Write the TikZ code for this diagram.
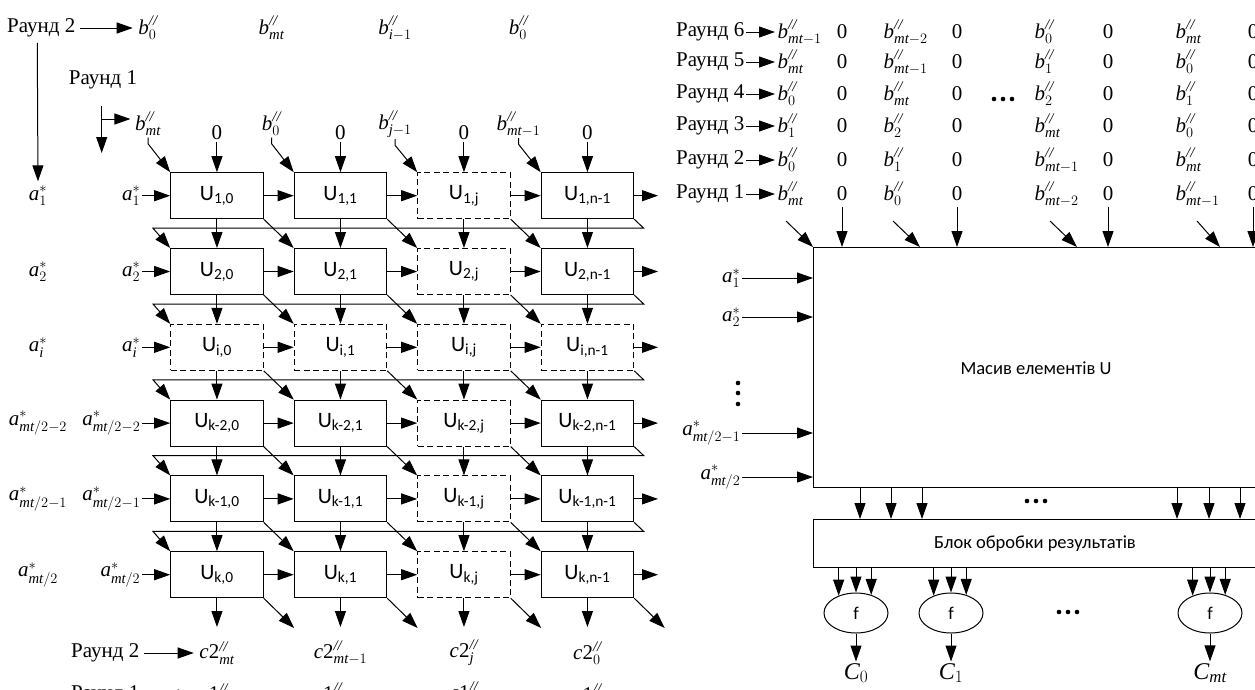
\documentclass[tikz,border=0pt]{standalone}
\usepackage{amsmath}
\usepackage{fontspec}
\setmainfont{Liberation Serif}
\setsansfont{Carlito}
\setmathrm{Liberation Serif}
\usetikzlibrary{arrows.meta,shapes.geometric}
\newcommand\itx[1]{\textit{#1}}
\newcommand\labB[1]{$\itx{b}^{\itx{//}}_{#1}$}
\newcommand\labA[1]{$\itx{a}^{*}_{#1}$}
\newcommand\labC[2]{$\itx{c}\mathrm{#1}^{\itx{//}}_{#2}$}
\begin{document}
\begin{tikzpicture}[x=1pt,y=-1pt,
  arr/.style={-{Triangle[length=16pt,width=11pt]},line width=1pt},
  ln/.style={line width=1pt},
  ubox/.style={draw,line width=1pt,minimum width=92.5pt,minimum height=46pt,inner sep=0pt,font=\sffamily\fontsize{22}{22}\selectfont},
  bs0/.style={},
  bs1/.style={dash pattern=on 6pt off 3.5pt},
  lbl/.style={font=\fontsize{21}{21}\selectfont,inner sep=1.5pt},
  sans/.style={font=\sffamily\fontsize{18.5}{18.5}\selectfont,inner sep=0pt},
  fnode/.style={draw,ellipse,line width=1pt,minimum width=64pt,minimum height=40pt,inner sep=0pt,font=\sffamily\fontsize{18}{18}\selectfont},
]
\useasboundingbox (0,0) rectangle (1255,689);

% ---------- left panel ----------
\node[lbl,anchor=east] (r2t) at (77,28) {Раунд 2};
\foreach \ci/\bl in {1/0,2/\itx{mt},3/{\itx{i}-1},4/0}{
  \pgfmathsetmacro\bx{148+123.5*(\ci-1)}
  \node[lbl] (tt\ci) at (\bx,28) {\labB{\bl}};
}
\draw[arr,shorten <=3pt,shorten >=4pt] (r2t.east) -- (tt1.west);
\node[lbl] (r1t) at (103,80) {Раунд 1};

\foreach \al [count=\ri] in {1,2,\itx{i},{\itx{mt}/2-2},{\itx{mt}/2-1},{\itx{mt}/2}}{
  \pgfmathsetmacro\cy{195.7+75.8*(\ri-1)}
  \node[lbl] (la\ri) at (38,\cy) {\labA{\al}};
  \node[lbl,anchor=east] (lb\ri) at (142,\cy) {\labA{\al}};
  \coordinate (out\ri) at (658,\cy);
  \pgfmathsetmacro\by{218.7+75.8*(\ri-1)+9.5}
  \coordinate (busL\ri) at (153,\by);
  \coordinate (busR\ri) at (643.7,\by);
}

\foreach \rl [count=\ri] in {1,2,i,k-2,k-1,k}{
  \foreach \cl [count=\ci] in {0,1,j,n-1}{
    \pgfmathtruncatemacro\isd{(\ri==3)||(\ci==3)}
    \pgfmathsetmacro\cx{216.95+123.5*(\ci-1)}
    \pgfmathsetmacro\cy{195.7+75.8*(\ri-1)}
    \node[ubox,bs\isd] (u-\ri-\ci) at (\cx,\cy) {U\textsubscript{\rl,\cl}};
  }
}

\draw[arr,shorten <=4pt,shorten >=3pt] ([xshift=-4pt]r2t.south) -- (la1.north);
\coordinate (sv1) at (101.7,106);
\coordinate (sv2) at (101.7,153);
\draw[arr] (sv1) -- (sv2);

\foreach \ci/\bl in {1/\itx{mt},2/0,3/{\itx{j}-1},4/{\itx{mt}-1}}{
  \pgfmathsetmacro\cx{216.95+123.5*(\ci-1)}
  \pgfmathsetmacro\bx{148+123.5*(\ci-1)}
  \node[lbl] (z\ci) at (\cx,133) {0};
  \node[lbl] (tb\ci) at (\bx,124) {\labB{\bl}};
  \draw[arr] (z\ci) -- (u-1-\ci.north);
  \draw[arr] (tb\ci.south) -- ++(0,6) -- (u-1-\ci.north west);
}
\coordinate (sh) at (101.7,119);
\draw[arr,shorten >=3pt] (sh) -- (sh -| tb1.west);

\foreach \ri in {1,...,6}{
  \draw[arr] (lb\ri.east) -- (u-\ri-1.west);
  \foreach \ci/\cn in {1/2,2/3,3/4}{
    \draw[arr] (u-\ri-\ci.east) -- (u-\ri-\cn.west);
  }
  \draw[arr] (u-\ri-4.east) -- (out\ri);
}
\foreach \ri/\rn in {1/2,2/3,3/4,4/5,5/6}{
  \foreach \ci in {1,...,4}{
    \draw[arr] (u-\ri-\ci.south) -- (u-\rn-\ci.north);
  }
  \foreach \ci/\cn in {1/2,2/3,3/4}{
    \draw[arr] (u-\ri-\ci.south east) -- (u-\rn-\cn.north west);
  }
  \draw[arr] (u-\ri-4.south east) -- (busR\ri) -- (busL\ri) -- (u-\rn-1.north west);
}
\foreach \ci in {1,...,4}{
  \pgfmathsetmacro\cx{216.95+123.5*(\ci-1)}
  \pgfmathsetmacro\dx{170.7+123.5*(\ci-1)+92.5+31}
  \coordinate (bo\ci) at (\cx,627);
  \coordinate (bd\ci) at (\dx,628);
  \draw[arr] (u-6-\ci.south) -- (bo\ci);
  \draw[arr] (u-6-\ci.south east) -- (bd\ci);
}

\node[lbl,anchor=east] (r2b) at (141,653) {Раунд 2};
\node[lbl,anchor=east] (r1b) at (141,695) {Раунд 1};
\foreach \ci/\sa in {1/\itx{mt},2/{\itx{mt}-1},3/\itx{j},4/0}{
  \pgfmathsetmacro\cx{216.95+123.5*(\ci-1)}
  \node[lbl] (cb\ci) at (\cx,653) {\labC{2}{\sa}};
  \node[lbl] (cc\ci) at (\cx,695) {\labC{1}{\sa}};
}
\draw[arr,shorten <=3pt,shorten >=4pt] (r2b.east) -- (cb1.west);
\draw[arr,shorten <=3pt,shorten >=4pt] (r1b.east) -- (cc1.west);

% ---------- right panel ----------
\foreach \rn/\ry/\ba/\bb/\bc/\bd in {6/32/{\itx{mt}-1}/{\itx{mt}-2}/0/\itx{mt},5/62/\itx{mt}/{\itx{mt}-1}/1/0,4/94/0/\itx{mt}/2/1,3/126/1/2/\itx{mt}/0,2/160/0/1/{\itx{mt}-1}/\itx{mt},1/194/\itx{mt}/0/{\itx{mt}-2}/{\itx{mt}-1}}{
  \node[lbl,anchor=east] (rr\rn) at (746,\ry) {Раунд \rn};
  \node[lbl,anchor=west] (rb\rn-1) at (776,\ry) {\labB{\ba}};
  \node[lbl,anchor=west] (rb\rn-2) at (882,\ry) {\labB{\bb}};
  \node[lbl,anchor=west] (rb\rn-3) at (1033,\ry) {\labB{\bc}};
  \node[lbl,anchor=west] (rb\rn-4) at (1174,\ry) {\labB{\bd}};
  \foreach \zx [count=\zi] in {842,957,1108,1253}{
    \node[lbl] (rz\rn-\zi) at (\zx,\ry) {0};
  }
  \draw[arr,shorten >=1pt] (rr\rn.east) -- (rb\rn-1.west);
}
\foreach \dxp in {994,1003,1012}{ \fill (\dxp,99) circle (2.3); }

\node[draw,line width=1pt,anchor=north west,minimum width=500pt,minimum height=240pt,inner sep=0pt] (big) at (813,247) {};
\node[sans] (bigtxt) at (1036,368) {Масив елементів U};

\foreach \c/\sx/\ex in {1/786/813,2/893/920,3/1050/1077,4/1197/1220}{
  \coordinate (ds\c) at (\sx,221);
  \coordinate (de\c) at (\ex,247);
  \draw[arr] (ds\c) -- (de\c);
  \draw[arr] ([yshift=-4pt]rz1-\c.south) -- (rz1-\c.south |- big.north);
}

\foreach \n/\al/\y in {1/1/278,2/2/317,3/{\itx{mt}/2-1}/433,4/{\itx{mt}/2}/477}{
  \node[lbl,anchor=east] (ra\n) at (742,\y) {\labA{\al}};
  \draw[arr] (ra\n.east) -- (ra\n.east -| big.west);
}
\foreach \yy in {383,393,404}{ \fill (738,\yy) circle (2.3); }

\node[draw,line width=1pt,anchor=north west,minimum width=500pt,minimum height=48pt,inner sep=0pt] (blk) at (813,519) {};
\node[sans] (blktxt) at (1035,544) {Блок обробки результатів};

\foreach \xx [count=\k] in {860,891,922,1177,1209,1240}{
  \coordinate (bb\k) at (\xx,487);
  \draw[arr] (bb\k) -- (bb\k |- blk.north);
}
\foreach \dxp in {1027,1036,1045}{ \fill (\dxp,501) circle (2.3); }

\foreach \k/\fx/\cl in {1/856/0,2/951/1,3/1210/\itx{mt}}{
  \node[fnode] (f\k) at (\fx,613) {f};
  \node[lbl,font=\fontsize{24}{24}\selectfont] (C\k) at (\fx,673) {$\itx{C}_{\cl}$};
  \draw[arr] (f\k.135 |- blk.south) -- (f\k.135);
  \draw[arr] (f\k.north |- blk.south) -- (f\k.north);
  \draw[arr] (f\k.50 |- blk.south) -- (f\k.50);
  \draw[arr] (f\k.south) -- (C\k.north);
}
\foreach \dxp in {1059,1068,1077}{ \fill (\dxp,612) circle (2.3); }
\end{tikzpicture}
\end{document}
